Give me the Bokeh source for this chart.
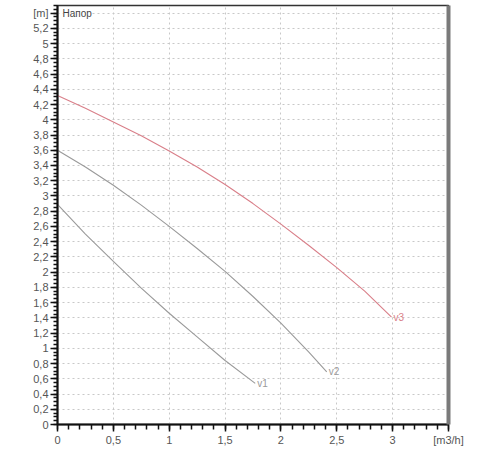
from bokeh.plotting import figure
from bokeh.models import FixedTicker, LinearAxis, Range1d
from bokeh.core.properties import value
from bokeh.embed import file_html
from bokeh.resources import INLINE
import numpy as np

# ---- data ----
v1_q = [0.0, 0.25, 0.5, 0.75, 1.0, 1.25, 1.5, 1.77]
v1_h = [2.89, 2.50, 2.14, 1.79, 1.46, 1.15, 0.84, 0.54]
v2_q = [0.0, 0.25, 0.5, 0.75, 1.0, 1.25, 1.5, 1.75, 2.0, 2.25, 2.41]
v2_h = [3.60, 3.38, 3.14, 2.88, 2.60, 2.31, 2.01, 1.68, 1.33, 0.95, 0.69]
v3_q = [0.0, 0.25, 0.5, 0.75, 1.0, 1.25, 1.5, 1.75, 2.0, 2.25, 2.5, 2.75, 2.99]
v3_h = [4.32, 4.15, 3.97, 3.79, 3.59, 3.38, 3.15, 2.90, 2.63, 2.35, 2.06, 1.75, 1.41]
curve_names = ["v1", "v2", "v3"]
curve_colors = ["#9a9a9a", "#9a9a9a", "#d97f89"]

x_ticks = [0, 0.5, 1, 1.5, 2, 2.5, 3, 3.5]
x_labels = ["0", "0,5", "1", "1,5", "2", "2,5", "3", "[m3/h]"]
y_ticks = [round(0.2 * i, 1) for i in range(28)]
y_labels = [("%g" % t).replace(".", ",") for t in y_ticks[:-1]] + ["[m]"]
title_text = "Напор"

FONT = "Liberation Sans"

p = figure(width=492, height=448, output_backend="svg", toolbar_location=None,
           x_range=Range1d(0, 3.5), y_range=Range1d(0, 5.5),
           min_border_left=57, min_border_right=44, min_border_top=5, min_border_bottom=20)
p.background_fill_color = "white"
p.border_fill_color = "white"
p.outline_line_color = "#333333"
p.outline_line_width = 1.5

# axes
xa = p.xaxis[0]
ya = p.yaxis[0]
xa.ticker = FixedTicker(ticks=x_ticks, minor_ticks=list(np.round(np.arange(0, 3.51, 0.1), 2)))
ya.ticker = FixedTicker(ticks=y_ticks, minor_ticks=list(np.round(np.arange(0, 5.51, 0.05), 2)))
xa.major_label_overrides = {t: l for t, l in zip(x_ticks, x_labels)}
ya.major_label_overrides = {t: l for t, l in zip(y_ticks, y_labels)}
for ax in (xa, ya):
    ax.axis_line_color = "#111111"
    ax.axis_line_width = 2
    ax.major_tick_line_color = "#111111"
    ax.minor_tick_line_color = "#111111"
    ax.major_tick_line_width = 1.5
    ax.minor_tick_line_width = 1.5
    ax.major_tick_in = 0
    ax.minor_tick_in = 0
    ax.major_label_text_font = FONT
    ax.major_label_text_font_size = "11px"
    ax.major_label_text_color = "#555555"
    ax.major_label_standoff = 2
xa.major_tick_out = 7
xa.minor_tick_out = 5
ya.major_tick_out = 7
ya.minor_tick_out = 4

# right thick border
ra = LinearAxis(ticker=FixedTicker(ticks=[]), axis_line_color="#7a7a7a", axis_line_width=4,
                major_label_text_font_size="0px", major_tick_line_color=None, minor_tick_line_color=None)
p.add_layout(ra, "right")

# grid
p.xgrid.ticker = FixedTicker(ticks=x_ticks[:-1])
p.ygrid.ticker = FixedTicker(ticks=y_ticks)
for g in (p.xgrid[0], p.ygrid[0]):
    g.grid_line_color = "#c8c8c8"
    g.grid_line_dash = "2 3"
    g.grid_line_width = 1

# curves
for q, h, name, col in zip([v1_q, v2_q, v3_q], [v1_h, v2_h, v3_h], curve_names, curve_colors):
    p.line(q, h, line_color=col, line_width=1.1)
    p.text(x=[q[-1]], y=[h[-1]], text=[name], x_offset=2, text_baseline="middle",
           text_align="left", text_font=value(FONT), text_font_size="10px", text_color=col)

p.text(x=[0], y=[5.4], text=[title_text], x_offset=5, text_baseline="middle", text_align="left",
       text_font=value(FONT), text_font_size="10px", text_color="#444444",
       background_fill_color="white")

open("out.html", "w").write(file_html(p, INLINE))
